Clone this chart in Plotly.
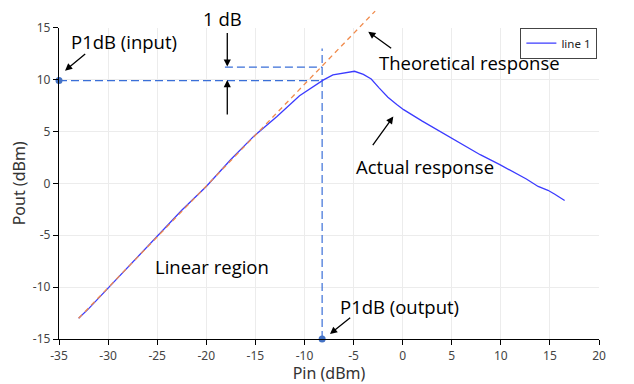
import plotly.graph_objects as go

# ---- data ----
pin_actual = [-33, -32, -30, -27.5, -25, -22.5, -20, -17.5, -15.2, -12.8, -10.5, -9.4, -8.1,
              -7.1, -6.0, -4.9, -4.0, -3.2, -2.4, -1.5, -0.6, 0.1, 2.0, 3.8, 6.0, 7.9, 9.9,
              12.6, 13.8, 14.8, 15.5, 16.5]
pout_actual = [-13, -12.1, -10.1, -7.6, -5.0, -2.6, -0.3, 2.3, 4.5, 6.45, 8.45, 9.15, 9.95,
               10.45, 10.62, 10.8, 10.5, 10.05, 9.2, 8.3, 7.6, 7.1, 6.0, 5.0, 3.8, 2.76, 1.8,
               0.42, -0.3, -0.67, -1.05, -1.66]
pin_theory = [-33, -2.8]
pout_theory = [-13, 16.6]

x_min, x_max = -35, 20
y_min, y_max = -15, 15
p1db_pin = -8.2        # input compression point (x)
p1db_pout = 9.9        # output at compression (y)
theory_at_p1db = 11.2  # theoretical output at compression
one_db_start = -18.1   # start of the 1 dB reference line
vline_top = 13

x_ticks = [-35, -30, -25, -20, -15, -10, -5, 0, 5, 10, 15, 20]
y_ticks = [-15, -10, -5, 0, 5, 10, 15]
x_ticktext = [str(v) for v in x_ticks]
y_ticktext = [str(v) for v in y_ticks]

# ---- geometry (page body has an 8px margin) ----
W, H = 626, 376
m_l, m_r, m_t, m_b = 51, 35, 2, 44.7
plot_h = H - m_t - m_b
main_top_px = 19.7
main_dom_top = (H - m_b - main_top_px) / plot_h
px_per_unit = (H - m_b - main_top_px) / (y_max - y_min)
y2_max = y_max + (main_top_px - m_t) / px_per_unit

blue = "#3a6fd8"
fig = go.Figure()

# theoretical response on an enlarged, invisible subplot so it can rise above the frame
fig.add_trace(go.Scatter(x=pin_theory, y=pout_theory, mode="lines", xaxis="x2", yaxis="y2",
                         line=dict(color="#f08a4b", width=1.3, dash="5px,4px"),
                         showlegend=False, hoverinfo="skip"))

# reference dashed lines
fig.add_trace(go.Scatter(x=[x_min, p1db_pin], y=[p1db_pout, p1db_pout], mode="lines",
                         line=dict(color=blue, width=1.2, dash="8px,4px"), showlegend=False))
fig.add_trace(go.Scatter(x=[one_db_start, p1db_pin], y=[theory_at_p1db, theory_at_p1db], mode="lines",
                         line=dict(color=blue, width=1.2, dash="8px,4px"), showlegend=False))
fig.add_trace(go.Scatter(x=[p1db_pin, p1db_pin], y=[y_min, vline_top], mode="lines",
                         line=dict(color=blue, width=1.2, dash="8px,4px"), showlegend=False))

# actual response
fig.add_trace(go.Scatter(x=pin_actual, y=pout_actual, mode="lines", name="line 1",
                         line=dict(color="#3b3bff", width=1.3), showlegend=True))

# P1dB markers
fig.add_trace(go.Scatter(x=[x_min, p1db_pin], y=[p1db_pout, y_min], mode="markers",
                         marker=dict(color="#4472c4", size=7), cliponaxis=False, showlegend=False))

ann_font = dict(family="Open Sans, sans-serif", size=18.5, color="#000000")
texts = [
    ("P1dB (input)", -28.35, 13.66),
    ("1 dB", -18.3, 15.84),
    ("Theoretical response", 6.86, 11.63),
    ("Actual response", 2.28, 1.62),
    ("Linear region", -19.37, -8.01),
    ("P1dB (output)", -0.27, -11.86),
]
annotations = [dict(text=t, x=x, y=y, xref="x2", yref="y2", showarrow=False, font=ann_font)
               for t, x, y in texts]
arrows = [
    (-34.39, 10.86, 21.7, -18),
    (-17.86, 11.25, 0, -35),
    (-17.86, 9.96, 0, 36),
    (-3.5, 14.61, 24.4, 17.6),
    (-0.95, 6.43, -21.6, 30),
    (-7.4, -14.52, 21.7, -17.6),
]
for x, y, ax, ay in arrows:
    annotations.append(dict(text="", x=x, y=y, xref="x2", yref="y2", ax=ax, ay=ay,
                            showarrow=True, arrowhead=2, arrowsize=1.1, arrowwidth=1.3,
                            arrowcolor="#000000"))

tick_font = dict(family="Noto Sans, sans-serif", size=12, color="#444444")
title_font = dict(family="Noto Sans, sans-serif", size=16, color="#333333")

fig.update_layout(
    template="none",
    width=W, height=H,
    margin=dict(l=m_l, r=m_r, t=m_t, b=m_b),
    paper_bgcolor="white", plot_bgcolor="rgba(0,0,0,0)",
    xaxis=dict(range=[x_min, x_max], domain=[0, 1], anchor="y", tickvals=x_ticks,
               ticktext=x_ticktext, automargin=False,
               showgrid=True, gridcolor="#ececec", gridwidth=1, zeroline=False,
               showline=True, linecolor="#000000", linewidth=1.3,
               ticks="outside", ticklen=5, tickcolor="#000000",
               tickfont=tick_font, title=dict(text="Pin (dBm)", font=title_font, standoff=0)),
    yaxis=dict(range=[y_min, y_max], domain=[0, main_dom_top], anchor="x", tickvals=y_ticks,
               ticktext=y_ticktext, automargin=False,
               showgrid=True, gridcolor="#ececec", gridwidth=1, zeroline=False,
               showline=True, linecolor="#000000", linewidth=1.3,
               ticks="outside", ticklen=5, tickcolor="#000000",
               tickfont=tick_font, title=dict(text="Pout (dBm)", font=title_font, standoff=6)),
    xaxis2=dict(range=[x_min, x_max], domain=[0, 1], anchor="y2", visible=False, automargin=False),
    yaxis2=dict(range=[y_min, y2_max], domain=[0, 1], anchor="x2", visible=False, automargin=False),
    legend=dict(x=0.997, y=main_dom_top, xanchor="right", yanchor="top",
                bgcolor="white", bordercolor="#444444", borderwidth=1,
                font=dict(family="Noto Sans, sans-serif", size=11.5, color="#222222"),
                itemwidth=30, tracegroupgap=0),
    annotations=annotations,
    showlegend=True,
)

fig.write_html("out.html")
